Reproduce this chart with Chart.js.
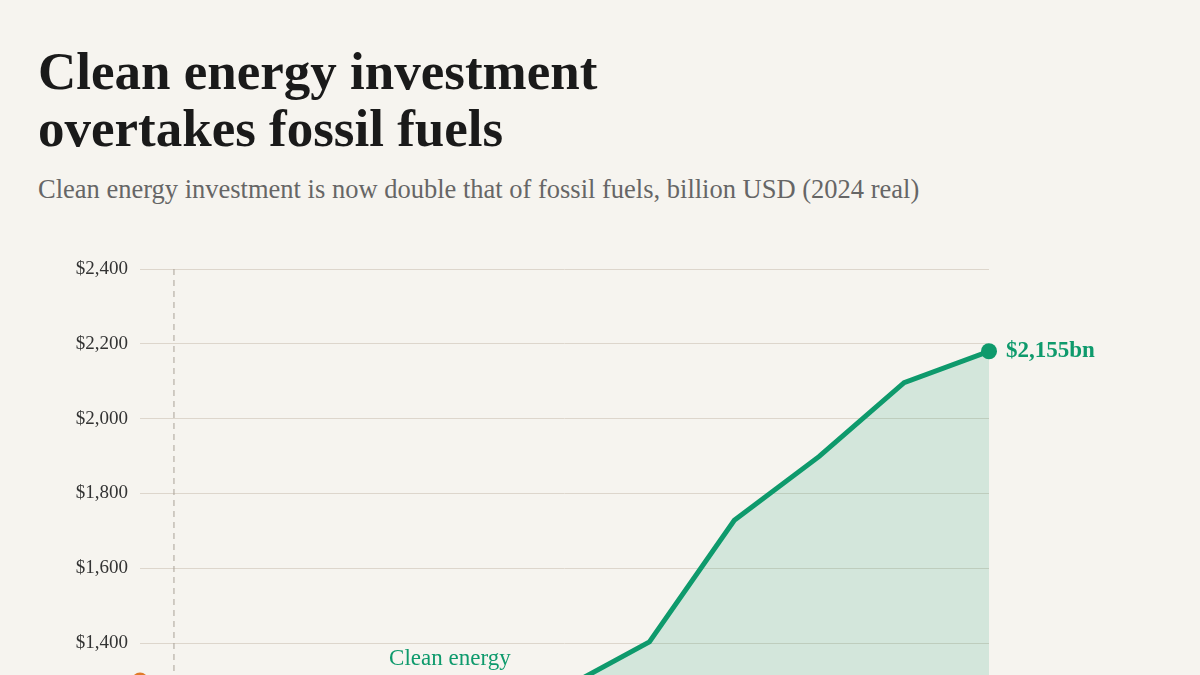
<!DOCTYPE html>
<html>
<head>
<meta charset="utf-8">
<script src="https://cdn.jsdelivr.net/npm/chart.js@4"></script>
<style>
  html, body { margin: 0; background: #f6f4ef; overflow: hidden; }
  body { width: 1200px; height: 675px; position: relative; font-family: "Liberation Serif", serif; }
  h1 { position: absolute; left: 38px; top: 43px; margin: 0; font-size: 53px; line-height: 57px; font-weight: bold; color: #1a1a1a; }
  .sub { position: absolute; left: 38px; top: 174px; font-size: 26.5px; color: #666; }
  #wrap { position: absolute; left: 0; top: 230px; width: 1200px; height: 960px; }
</style>
</head>
<body>
<h1>Clean energy investment<br>overtakes fossil fuels</h1>
<div class="sub">Clean energy investment is now double that of fossil fuels, billion USD (2024 real)</div>
<div id="wrap"><canvas id="chart"></canvas></div>
<script>
// values (billion USD)
const years = [2015, 2016, 2017, 2018, 2019, 2020, 2021, 2022, 2023, 2024, 2025];
const cleanValues = [1100, 1120, 1130, 1150, 1180, 1280, 1403, 1728, 1899, 2096, 2180];
const fossilValues = [1300, 1100, 1060, 1080, 1090, 900, 960, 1030, 1090, 1110, 1080];
const yTicks = [0, 200, 400, 600, 800, 1000, 1200, 1400, 1600, 1800, 2000, 2200, 2400];
const markerYear = 2015.4;

const green = '#0e9a6c';
const orange = '#e07b2a';

const extras = {
  id: 'extras',
  afterDatasetsDraw(chart) {
    const { ctx, chartArea, scales: { x, y } } = chart;
    ctx.save();
    // dashed marker line
    ctx.strokeStyle = '#aaa196';
    ctx.lineWidth = 1;
    ctx.setLineDash([6, 5]);
    const mx = x.getPixelForValue(markerYear);
    ctx.beginPath();
    ctx.moveTo(mx, chartArea.top);
    ctx.lineTo(mx, chartArea.bottom);
    ctx.stroke();
    ctx.setLineDash([]);
    // end point + label
    const last = cleanValues.length - 1;
    const px = x.getPixelForValue(years[last]);
    const py = y.getPixelForValue(cleanValues[last]);
    ctx.fillStyle = green;
    ctx.beginPath();
    ctx.arc(px, py, 8, 0, Math.PI * 2);
    ctx.fill();
    ctx.font = 'bold 23px "Liberation Serif"';
    ctx.textBaseline = 'middle';
    ctx.fillText('$2,155bn', px + 17, py);
    // series label
    ctx.font = '23px "Liberation Serif"';
    ctx.textAlign = 'center';
    ctx.fillText('Clean energy', x.getPixelForValue(2018.65), y.getPixelForValue(1358));
    // fossil start dot
    ctx.fillStyle = orange;
    ctx.beginPath();
    ctx.arc(x.getPixelForValue(years[0]), y.getPixelForValue(fossilValues[0]), 8, 0, Math.PI * 2);
    ctx.fill();
    ctx.restore();
  }
};

new Chart(document.getElementById('chart'), {
  type: 'line',
  data: {
    datasets: [
      {
        data: years.map((yr, i) => ({ x: yr, y: cleanValues[i] })),
        borderColor: green,
        backgroundColor: 'rgba(14,154,108,0.15)',
        fill: 'origin',
        borderWidth: 5,
        pointRadius: 0,
        tension: 0
      },
      {
        data: years.map((yr, i) => ({ x: yr, y: fossilValues[i] })),
        borderColor: orange,
        backgroundColor: 'rgba(224,123,42,0.12)',
        fill: 'origin',
        borderWidth: 5,
        pointRadius: 0,
        tension: 0
      }
    ]
  },
  options: {
    responsive: true,
    maintainAspectRatio: false,
    animation: false,
    layout: { padding: { top: 39, right: 211, bottom: 21, left: 0 } },
    plugins: { legend: { display: false }, tooltip: { enabled: false } },
    scales: {
      x: {
        type: 'linear',
        min: 2015,
        max: 2025,
        display: false
      },
      y: {
        min: 0,
        max: 2400,
        afterBuildTicks: s => { s.ticks = yTicks.map(v => ({ value: v })); },
        afterFit: s => { s.width = 140; },
        border: { display: false },
        grid: { color: '#ddd6cc', lineWidth: 1, drawTicks: false },
        ticks: {
          padding: 12,
          color: '#333',
          font: { family: 'Liberation Serif', size: 19 },
          callback: v => '$' + v.toLocaleString('en-US')
        }
      }
    }
  },
  plugins: [extras]
});
</script>
</body>
</html>
